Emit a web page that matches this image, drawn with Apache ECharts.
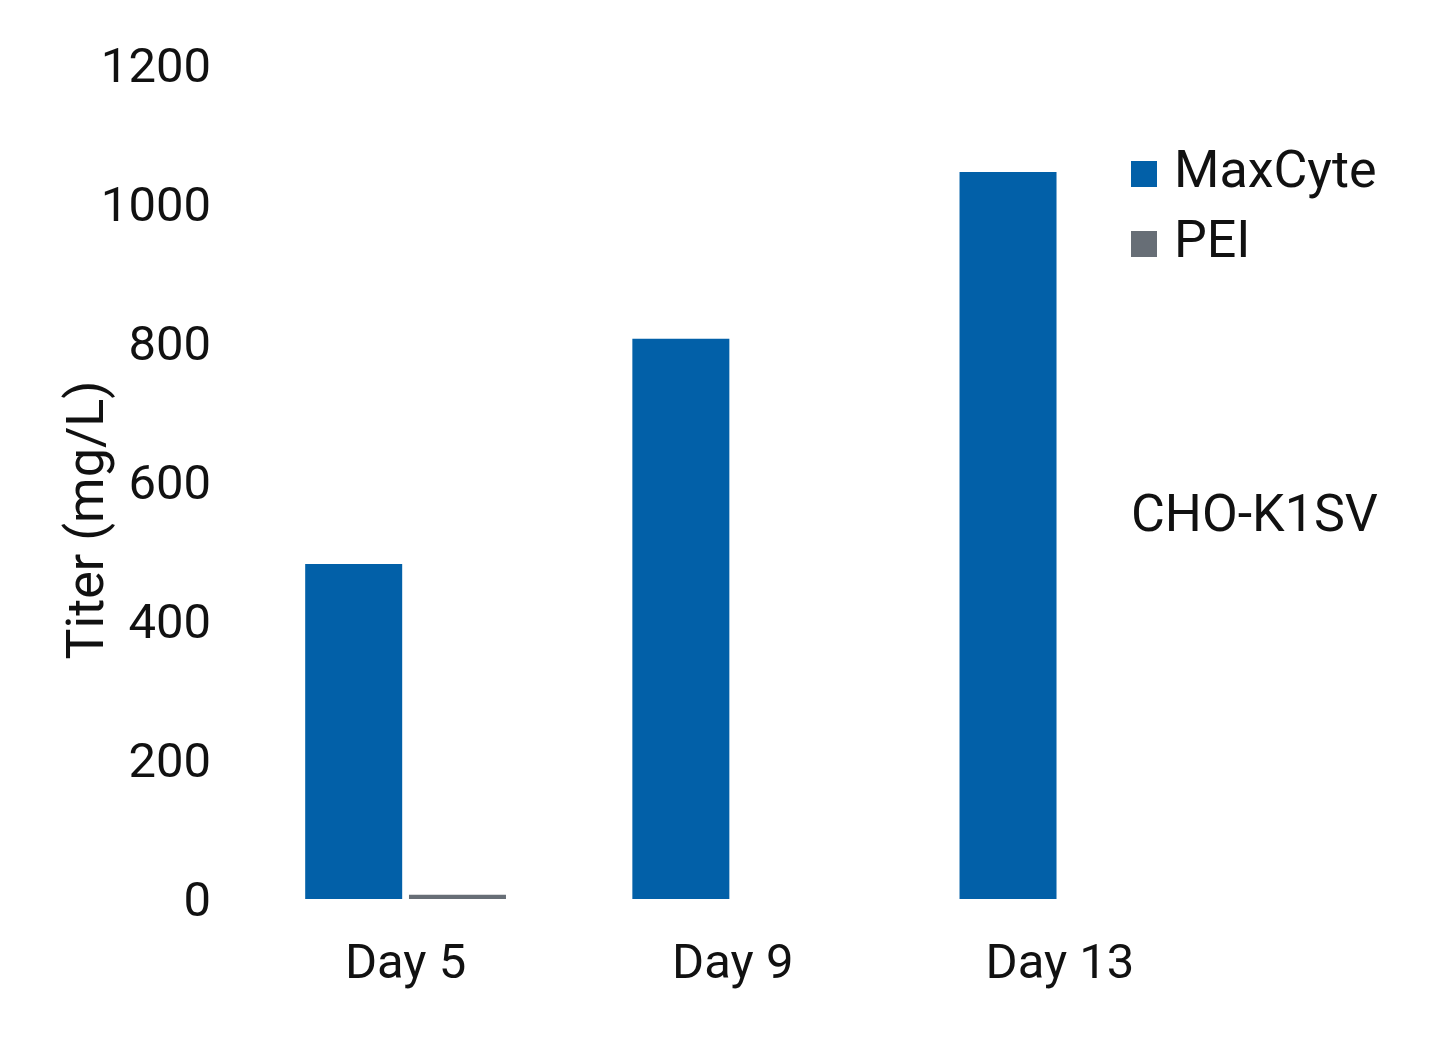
<!DOCTYPE html>
<html>
<head>
<meta charset="utf-8">
<script src="https://cdn.jsdelivr.net/npm/echarts@6/dist/echarts.min.js"></script>
<style>html,body{margin:0;padding:0;background:#fff}#c{width:1435px;height:1046px}</style>
</head>
<body>
<div id="c"></div>
<script>
const categories = ['Day 5', 'Day 9', 'Day 13'];
const maxcyte = [482, 806, 1046];
const pei = [6, null, null];
const seriesNames = ['MaxCyte', 'PEI'];
const yTicks = { min: 0, max: 1200, interval: 200 };

const chart = echarts.init(document.getElementById('c'));
const font = 'Roboto';
chart.setOption({
  animation: false,
  backgroundColor: '#fff',
  grid: { left: 242, right: 211.5, top: 65, bottom: 147 },
  legend: {
    orient: 'vertical', left: 1126, top: 143,
    itemWidth: 26, itemHeight: 26, itemGap: 18,
    icon: 'rect',
    textStyle: { fontFamily: font, fontSize: 52, color: '#111', padding: [0, 0, 0, 12], lineHeight: 52 },
    data: seriesNames
  },
  xAxis: {
    type: 'category', data: categories,
    axisLine: { show: false }, axisTick: { show: false },
    axisLabel: { fontFamily: font, fontSize: 49, color: '#111', margin: 42 }
  },
  yAxis: {
    type: 'value', min: yTicks.min, max: yTicks.max, interval: yTicks.interval,
    splitLine: { show: false }, axisLine: { show: false }, axisTick: { show: false },
    axisLabel: { margin: 31,
      formatter: v => '{a|' + v + '}',
      rich: { a: { fontFamily: font, fontSize: 49, color: '#111', padding: [10, 0, 0, 0] } } }
  },
  graphic: [
    { type: 'text', x: 90, y: 520, rotation: Math.PI / 2,
      style: { text: 'Titer (mg/L)', fontFamily: font, fontSize: 52, fill: '#111', align: 'center', verticalAlign: 'middle' } },
    { type: 'text', x: 1131, y: 518,
      style: { text: 'CHO-K1SV', fontFamily: font, fontSize: 52, fill: '#111', align: 'left', verticalAlign: 'middle' } }
  ],
  series: [
    { name: seriesNames[0], type: 'bar', data: maxcyte, barWidth: 97, barGap: '7%', itemStyle: { color: '#0260A8' } },
    { name: seriesNames[1], type: 'bar', data: pei, barWidth: 97, itemStyle: { color: '#676E76' } }
  ]
});
</script>
</body>
</html>
